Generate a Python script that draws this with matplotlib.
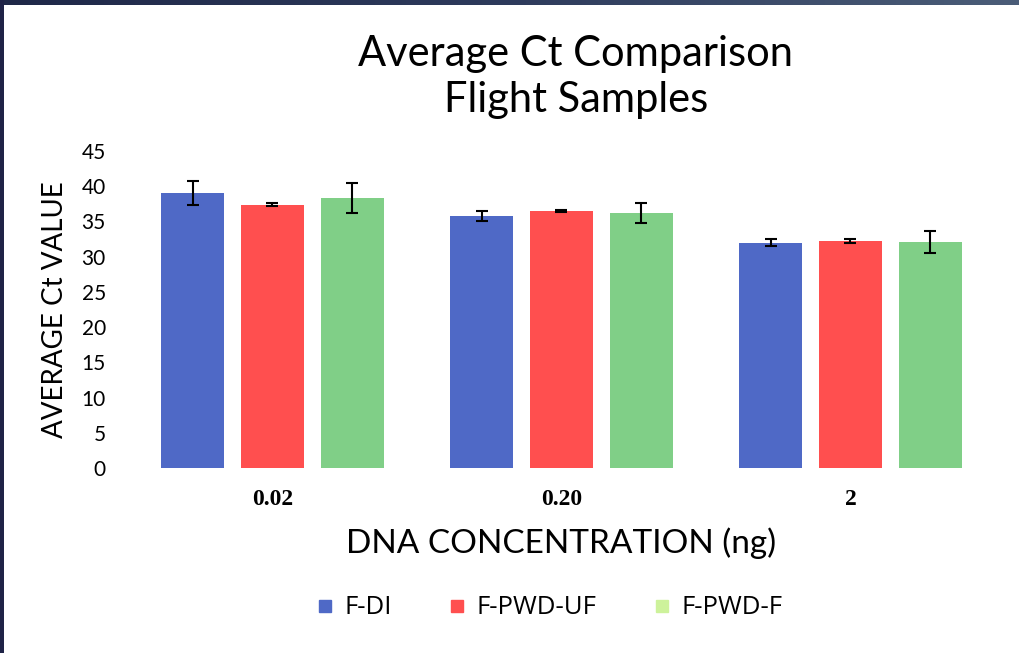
import numpy as np
import matplotlib.pyplot as plt
from matplotlib.lines import Line2D
from matplotlib.colors import LinearSegmentedColormap

# data
concentrations = ['0.02', '0.20', '2']
series = ['F-DI', 'F-PWD-UF', 'F-PWD-F']
f_di = [39.0, 35.8, 32.0]
f_pwd_uf = [37.4, 36.5, 32.2]
f_pwd_f = [38.3, 36.2, 32.1]
f_di_err = [1.7, 0.75, 0.45]
f_pwd_uf_err = [0.2, 0.15, 0.3]
f_pwd_f_err = [2.1, 1.35, 1.6]

bar_colors = ['#4f69c6', '#ff4f4f', '#80cf87']
legend_colors = ['#4f69c6', '#ff4f4f', '#cdf29b']

plt.rcParams['font.family'] = ['Lato', 'DejaVu Sans']

fig = plt.figure(figsize=(10.2, 6.53), dpi=100)

# dark frame along top and left edge
top = fig.add_axes([0, 1 - 5 / 653, 1, 5 / 653])
grad = np.linspace(0, 1, 256).reshape(1, -1)
cm = LinearSegmentedColormap.from_list('frame', ['#1f2848', '#2e3b5c', '#4b5d78'])
top.imshow(grad, aspect='auto', cmap=cm)
top.axis('off')
left = fig.add_axes([0, 0, 4 / 1020, 1])
left.set_facecolor('#1f2347')
left.set_xticks([]); left.set_yticks([])
for s in left.spines.values():
    s.set_visible(False)

ax = fig.add_axes([128 / 1020, 1 - 468 / 653, 867 / 1020, 317 / 653])
x = np.arange(len(concentrations))
off = 0.2768
w = 0.218
vals = [f_di, f_pwd_uf, f_pwd_f]
errs = [f_di_err, f_pwd_uf_err, f_pwd_f_err]
for i in range(3):
    ax.bar(x + (i - 1) * off, vals[i], w, color=bar_colors[i],
           yerr=errs[i], capsize=4.5,
           error_kw=dict(elinewidth=1.5, capthick=1.5, ecolor='black'))

ax.set_xlim(-0.5, 2.5)
ax.set_ylim(0, 45)
ax.set_yticks(np.arange(0, 46, 5))
ax.set_xticks(x)
ax.set_xticklabels(concentrations, fontsize=17, fontweight='bold', family='Liberation Serif')
ax.tick_params(axis='x', length=0, pad=15)
ax.tick_params(axis='y', length=0, labelsize=15, pad=16)
for s in ax.spines.values():
    s.set_visible(False)

ax.set_xlabel('DNA CONCENTRATION (ng)', fontsize=24, labelpad=13)
ax.set_ylabel('AVERAGE Ct VALUE', fontsize=20, labelpad=10)

fig.text(576 / 1020, 1 - 77 / 653, 'Average Ct Comparison\nFlight Samples',
         ha='center', va='center', fontsize=30, linespacing=1.25)

handles = [Line2D([], [], marker='s', linestyle='none', markersize=8,
                  markerfacecolor=c, markeredgecolor=c) for c in legend_colors]
fig.legend(handles, series, loc='center', bbox_to_anchor=(548 / 1020, 1 - 608 / 653),
           ncol=3, frameon=False, handletextpad=0.3,
           columnspacing=2.1, handlelength=0.9, prop={'family': 'Open Sans', 'size': 18.5})

fig.savefig('out.png', dpi=100)
